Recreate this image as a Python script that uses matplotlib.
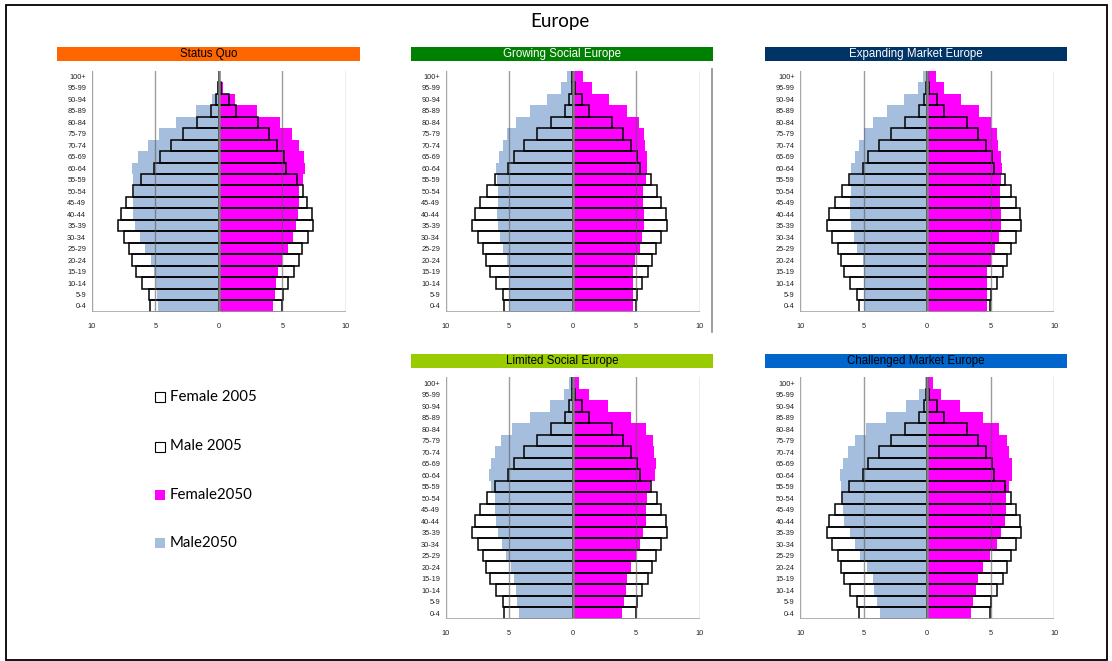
import numpy as np
import matplotlib
matplotlib.use('Agg')
import matplotlib.pyplot as plt
from matplotlib.patches import Rectangle
from matplotlib.lines import Line2D

plt.rcParams['font.family'] = ['Liberation Sans', 'DejaVu Sans']

ages = ['0-4', '5-9', '10-14', '15-19', '20-24', '25-29', '30-34', '35-39', '40-44', '45-49',
        '50-54', '55-59', '60-64', '65-69', '70-74', '75-79', '80-84', '85-89', '90-94', '95-99', '100+']

# share of population (%) per age group, 2005 is the same in every scenario
male_2005 = [5.39, 5.52, 6.05, 6.54, 6.80, 7.07, 7.49, 7.93, 7.72, 7.28, 6.73,
             6.13, 5.10, 4.63, 3.80, 2.83, 1.73, 0.63, 0.26, 0.08, 0.02]
female_2005 = [4.95, 5.03, 5.47, 5.94, 6.28, 6.57, 6.99, 7.41, 7.33, 6.96, 6.60,
               6.13, 5.26, 5.10, 4.60, 3.98, 3.10, 1.31, 0.76, 0.16, 0.05]

sq_male_2050 = [4.79, 4.87, 4.97, 5.10, 5.37, 5.84, 6.23, 6.57, 6.73, 6.75, 6.68,
                6.78, 6.80, 6.34, 5.55, 4.69, 3.38, 1.78, 0.50, 0.13, 0.05]
sq_female_2050 = [4.27, 4.42, 4.50, 4.63, 5.00, 5.45, 5.84, 6.05, 6.23, 6.31, 6.30,
                  6.62, 6.75, 6.70, 6.31, 5.76, 4.82, 3.01, 1.28, 0.31, 0.10]

gs_male_2050 = [4.99, 5.00, 5.00, 5.00, 5.14, 5.49, 5.72, 5.90, 5.96, 5.90, 5.85,
                5.98, 6.04, 5.83, 5.49, 5.17, 4.46, 3.36, 2.02, 0.92, 0.42]
gs_female_2050 = [4.75, 4.75, 4.75, 4.75, 4.91, 5.30, 5.46, 5.59, 5.59, 5.54, 5.54,
                  5.75, 5.85, 5.85, 5.70, 5.62, 5.22, 4.28, 2.86, 1.52, 0.81]

em_male_2050 = [4.95, 4.97, 4.97, 5.00, 5.10, 5.50, 5.81, 5.97, 6.05, 6.05, 6.00,
                6.10, 5.97, 5.71, 5.34, 5.00, 4.24, 3.14, 1.81, 0.76, 0.37]
em_female_2050 = [4.71, 4.71, 4.71, 4.71, 5.03, 5.34, 5.65, 5.79, 5.79, 5.73, 5.73,
                  5.79, 5.86, 5.79, 5.55, 5.50, 5.03, 4.08, 2.67, 1.34, 0.71]

ls_male_2050 = [4.21, 4.37, 4.45, 4.61, 4.87, 5.24, 5.55, 5.86, 6.02, 6.10, 6.10,
                6.41, 6.57, 6.41, 6.10, 5.68, 4.76, 3.40, 1.78, 0.68, 0.29]
ls_female_2050 = [3.87, 4.03, 4.16, 4.27, 4.58, 5.00, 5.29, 5.52, 5.76, 5.76, 5.84,
                  6.10, 6.47, 6.54, 6.39, 6.31, 5.76, 4.58, 2.77, 1.26, 0.47]

cm_male_2050 = [3.76, 4.00, 4.16, 4.24, 4.71, 5.26, 5.71, 6.10, 6.53, 6.60, 6.60,
                6.76, 6.84, 6.60, 6.21, 5.71, 4.79, 3.26, 1.68, 0.68, 0.18]
cm_female_2050 = [3.47, 3.63, 3.82, 3.97, 4.37, 4.92, 5.47, 5.79, 6.10, 6.18, 6.18,
                  6.47, 6.63, 6.63, 6.47, 6.26, 5.63, 4.37, 2.55, 1.05, 0.42]

titles = ['Status Quo', 'Growing Social Europe', 'Expanding Market Europe',
          'Limited Social Europe', 'Challenged Market Europe']
header_colors = ['#FF6600', '#008000', '#003366', '#99CC00', '#0066CC']
header_text = ['black', 'white', 'white', 'black', 'black']

MALE_COL = '#A6BEDE'
FEMALE_COL = '#FF00FF'

W, H = 1112, 661
fig = plt.figure(figsize=(W / 100, H / 100), dpi=100)


def px_rect(x0, y0, x1, y1):
    # pixel box (top-left origin) -> figure fraction [l, b, w, h]
    return [x0 / W, 1 - y1 / H, (x1 - x0) / W, (y1 - y0) / H]


def pyramid(rect, male50, female50):
    ax = fig.add_axes(rect)
    y = np.arange(len(ages))
    m05 = -np.array(male_2005)
    f05 = np.array(female_2005)
    # 2005 white underlay, 2050 coloured, 2005 outline on top
    ax.barh(y, m05, height=1.0, color='white', edgecolor='none', zorder=1)
    ax.barh(y, f05, height=1.0, color='white', edgecolor='none', zorder=1)
    ax.barh(y, -np.array(male50), height=1.0, color=MALE_COL, edgecolor='none', zorder=2)
    ax.barh(y, female50, height=1.0, color=FEMALE_COL, edgecolor='none', zorder=2)
    ax.barh(y, m05, height=1.0, fill=False, edgecolor='black', linewidth=1.1, zorder=3)
    ax.barh(y, f05, height=1.0, fill=False, edgecolor='black', linewidth=1.1, zorder=3)
    for x in (-5, 5):
        ax.axvline(x, color='#5a5a5a', alpha=0.6, linewidth=1.0, zorder=4)
    for x in (-10, 10):
        ax.axvline(x, color='#a6a6a6', linewidth=1.0, zorder=4)
    ax.axvline(0, color='#7f7f7f', linewidth=1.8, zorder=5)
    ax.axhline(-0.5, color='#a6a6a6', linewidth=1.2, zorder=5)
    ax.set_xlim(-10, 10)
    ax.set_ylim(-0.5, len(ages) - 0.5)
    ax.set_xticks([-10, -5, 0, 5, 10])
    ax.set_xticklabels(['10', '5', '0', '5', '10'])
    ax.set_yticks(y)
    ax.set_yticklabels(ages)
    ax.tick_params(axis='both', length=0, labelsize=5.3, colors='#222222')
    ax.tick_params(axis='x', pad=8)
    ax.tick_params(axis='y', pad=4)
    for s in ax.spines.values():
        s.set_visible(False)
    ax.patch.set_alpha(0)
    return ax


top = (70.7, 311.7)
bot = (377.3, 618.8)
cols = [(91.7, 346.0), (445.7, 699.7), (800.3, 1054.3)]
panels = [
    (cols[0], top, sq_male_2050, sq_female_2050, (56.7, 46.7, 360.0, 60.7)),
    (cols[1], top, gs_male_2050, gs_female_2050, (411.0, 46.7, 713.3, 60.7)),
    (cols[2], top, em_male_2050, em_female_2050, (765.0, 46.7, 1067.3, 60.7)),
    (cols[1], bot, ls_male_2050, ls_female_2050, (411.0, 354.0, 713.3, 368.3)),
    (cols[2], bot, cm_male_2050, cm_female_2050, (765.0, 354.0, 1067.3, 368.3)),
]

for i, (cx, cy, m50, f50, hb) in enumerate(panels):
    pyramid(px_rect(cx[0], cy[0], cx[1], cy[1]), m50, f50)
    fig.patches.append(Rectangle((hb[0] / W, 1 - hb[3] / H), (hb[2] - hb[0]) / W,
                                 (hb[3] - hb[1]) / H, transform=fig.transFigure,
                                 facecolor=header_colors[i], edgecolor='none'))
    fig.text((hb[0] + hb[2]) / 2 / W, 1 - (hb[1] + hb[3]) / 2 / H, titles[i],
             ha='center', va='center', fontsize=8.3, color=header_text[i])

# stray chart border line in the Growing Social panel
fig.add_artist(Line2D([712.3 / W, 712.3 / W], [1 - 69 / H, 1 - 332 / H],
                      color='#8c8c8c', linewidth=1.2, transform=fig.transFigure))

fig.text(560 / W, 1 - 22 / H, 'Europe', ha='center', va='center', fontsize=13.5,
         family=['Lato', 'DejaVu Sans'])

# legend
leg_labels = ['Female 2005', 'Male 2005', 'Female2050', 'Male2050']
leg_fill = ['white', 'white', FEMALE_COL, MALE_COL]
leg_edge = ['black', 'black', 'none', 'none']
leg_y = [397, 446.5, 495, 543]
for lab, fc, ec, yy in zip(leg_labels, leg_fill, leg_edge, leg_y):
    fig.patches.append(Rectangle((155 / W, 1 - (yy + 5) / H), 10 / W, 10 / H,
                                 transform=fig.transFigure, facecolor=fc,
                                 edgecolor=ec, linewidth=0.8))
    fig.text(170 / W, 1 - yy / H, lab, ha='left', va='center', fontsize=10.8,
             family=['Lato', 'DejaVu Sans'])

# outer frame
fig.patches.append(Rectangle((5.5 / W, 1 - 659.5 / H), 1101 / W, 654.5 / H,
                             transform=fig.transFigure, fill=False,
                             edgecolor='black', linewidth=1.3))

fig.savefig('out.png', dpi=100)
